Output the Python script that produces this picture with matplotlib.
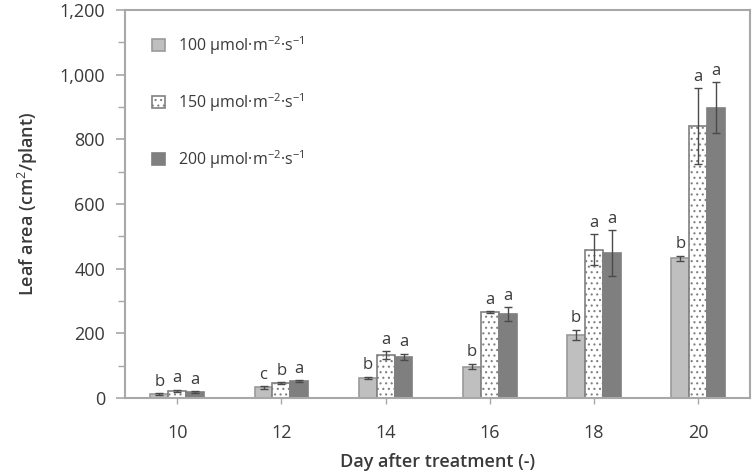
import numpy as np
from matplotlib import pyplot as plt
from matplotlib.ticker import FuncFormatter, MultipleLocator

plt.rcParams['font.family'] = ['Open Sans', 'DejaVu Sans']
plt.rcParams['mathtext.fontset'] = 'custom'
plt.rcParams['mathtext.rm'] = 'Open Sans'
plt.rcParams['mathtext.it'] = 'Open Sans'
plt.rcParams['mathtext.bf'] = 'Open Sans:bold'
plt.rcParams['hatch.color'] = '#c4c4c4'
plt.rcParams['hatch.linewidth'] = 0.8

days = ['10', '12', '14', '16', '18', '20']
labels = ['100 μmol·m$^{-2}$·s$^{-1}$', '150 μmol·m$^{-2}$·s$^{-1}$',
          '200 μmol·m$^{-2}$·s$^{-1}$']

area_100 = [12, 33, 62, 97, 195, 432]
area_150 = [22, 46, 133, 266, 458, 841]
area_200 = [18, 52, 127, 260, 448, 898]
err_100 = [3, 4, 4, 9, 16, 8]
err_150 = [4, 4, 12, 3, 48, 118]
err_200 = [4, 4, 10, 22, 72, 80]
sig_100 = ['b', 'c', 'b', 'b', 'b', 'b']
sig_150 = ['a', 'b', 'a', 'a', 'a', 'a']
sig_200 = ['a', 'a', 'a', 'a', 'a', 'a']

txt = '#3a3a3a'
frame = '#a8a8a8'

fig = plt.figure(figsize=(7.54, 4.76), dpi=100)
ax = fig.add_axes([0.166, 0.164, 0.829, 0.815])

x = np.arange(len(days))
w = 0.172
styles = [
    dict(color='#bfbfbf', edgecolor='#9a9a9a', hatch=None),
    dict(color='white', edgecolor='#808080', hatch='...'),
    dict(color='#7f7f7f', edgecolor='#7f7f7f', hatch=None),
]
series = [(area_100, err_100, sig_100), (area_150, err_150, sig_150),
          (area_200, err_200, sig_200)]

for i, ((vals, errs, sigs), st, lab) in enumerate(zip(series, styles, labels)):
    pos = x + (i - 1) * w
    ax.bar(pos, vals, w, color=st['color'], edgecolor=st['edgecolor'],
           hatch=st['hatch'], linewidth=1.2, label=lab, zorder=2)
    ax.errorbar(pos, vals, yerr=errs, fmt='none', ecolor='#4a4a4a',
                elinewidth=1.0, capsize=3, capthick=1.0, zorder=3)
    for p, v, e, s in zip(pos, vals, errs, sigs):
        ax.text(p, v + e + 10, s, ha='center', va='bottom', fontsize=12,
                color=txt)

ax.set_xlim(-0.5, 5.5)
ax.set_ylim(0, 1200)
ax.set_xticks(x)
ax.set_xticklabels(days)
ax.yaxis.set_major_locator(MultipleLocator(200))
ax.yaxis.set_minor_locator(MultipleLocator(100))
ax.yaxis.set_major_formatter(FuncFormatter(lambda v, p: f'{int(v):,}'))

for sp in ax.spines.values():
    sp.set_color(frame)
    sp.set_linewidth(1.5)

ax.tick_params(axis='y', which='major', length=6.5, color=frame, width=1.2,
               labelsize=13, labelcolor=txt, pad=8)
ax.tick_params(axis='y', which='minor', length=5, color=frame, width=1.0)
ax.tick_params(axis='x', length=4, direction='out', color=frame, width=1.0,
               labelsize=13, labelcolor=txt, pad=15)

ax.set_ylabel('Leaf area (cm$^2$/plant)', fontsize=13, color=txt,
              fontweight='semibold', labelpad=14)
ax.set_xlabel('Day after treatment (-)', fontsize=13, color=txt,
              fontweight='semibold', labelpad=8)

leg = ax.legend(loc='upper left', bbox_to_anchor=(0.02, 0.975), frameon=False,
                fontsize=11.5, labelspacing=2.15, handlelength=0.8,
                handleheight=0.8, handletextpad=0.8)
for t in leg.get_texts():
    t.set_color(txt)

fig.savefig('out.png', dpi=100)
